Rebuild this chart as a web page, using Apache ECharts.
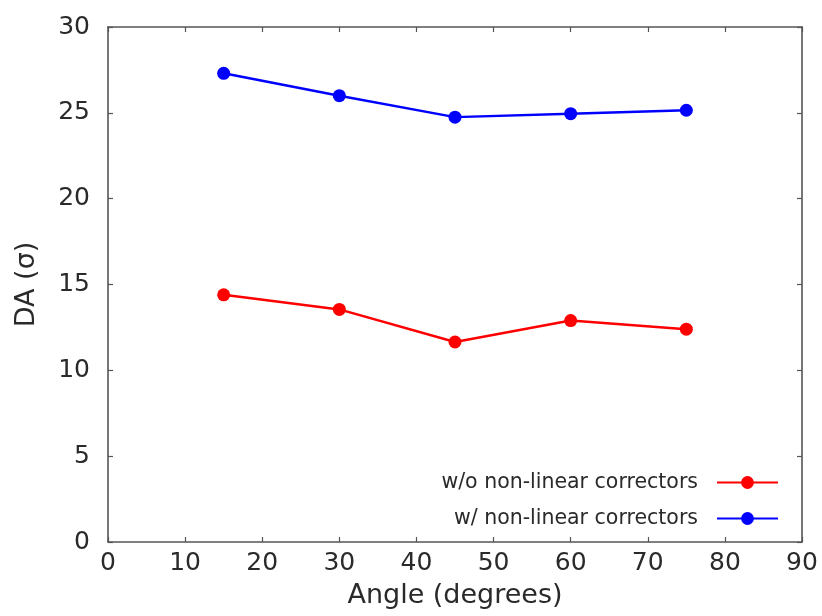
<!DOCTYPE html>
<html>
<head>
<meta charset="utf-8">
<script src="https://cdn.jsdelivr.net/npm/echarts@6/dist/echarts.min.js"></script>
<style>html,body{margin:0;padding:0;background:#fff}#c{width:822px;height:616px}</style>
</head>
<body>
<div id="c"></div>
<script>
var angles = [15, 30, 45, 60, 75];
var withoutNL = [14.4, 13.55, 11.65, 12.9, 12.4];
var withNL = [27.3, 26.0, 24.75, 24.95, 25.15];
var seriesNames = ['w/o non-linear correctors', 'w/ non-linear correctors'];

var FONT = 'DejaVu Sans, sans-serif';
var TXT = '#2a2a2a';
var chart = echarts.init(document.getElementById('c'));
function pairs(xs, ys){ return xs.map(function(x,i){ return [x, ys[i]]; }); }
var axisLine = {show:true, onZero:false, lineStyle:{color:'#555', width:1.6}};
var tick = {show:true, inside:true, length:5, lineStyle:{color:'#555', width:1.2}};
chart.setOption({
  animation:false,
  backgroundColor:'#fff',
  grid:{left:108, right:20, top:27, bottom:74, containLabel:false},
  xAxis:[{
    type:'value', min:0, max:90, interval:10,
    axisLine:axisLine, axisTick:tick, splitLine:{show:false},
    axisLabel:{fontFamily:FONT, fontSize:25, color:TXT, margin:9},
    name:'Angle (degrees)', nameLocation:'middle', nameGap:40,
    nameTextStyle:{fontFamily:FONT, fontSize:27, color:TXT}
  },{
    type:'value', position:'top', min:0, max:90, interval:10,
    axisLine:axisLine, axisTick:tick, axisLabel:{show:false}, splitLine:{show:false}
  }],
  yAxis:[{
    type:'value', min:0, max:30, interval:5,
    axisLine:axisLine, axisTick:tick, splitLine:{show:false},
    axisLabel:{fontFamily:FONT, fontSize:25, color:TXT, margin:18, padding:[0,0,8,0]},
    name:'DA (σ)', nameLocation:'middle', nameGap:68, nameRotate:90,
    nameTextStyle:{fontFamily:FONT, fontSize:27, color:TXT}
  },{
    type:'value', position:'right', min:0, max:30, interval:5,
    axisLine:axisLine, axisTick:tick, axisLabel:{show:false}, splitLine:{show:false}
  }],
  legend:{
    orient:'vertical', right:38, top:467, align:'right',
    itemWidth:61, itemHeight:16, itemGap:15,
    textStyle:{fontFamily:FONT, fontSize:20.5, color:TXT, padding:[0,14,0,0]},
    data:seriesNames
  },
  series:[{
    name:seriesNames[0], type:'line', data:pairs(angles, withoutNL),
    symbol:'circle', symbolSize:13,
    lineStyle:{color:'#ff0000', width:2.5}, itemStyle:{color:'#ff0000'}
  },{
    name:seriesNames[1], type:'line', data:pairs(angles, withNL),
    symbol:'circle', symbolSize:13,
    lineStyle:{color:'#0000ff', width:2.5}, itemStyle:{color:'#0000ff'}
  }]
});
</script>
</body>
</html>
